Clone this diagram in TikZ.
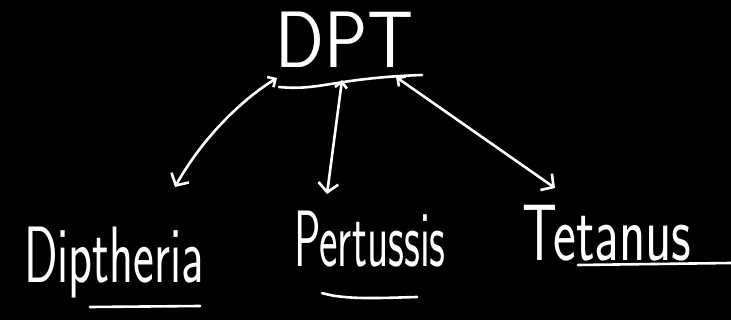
\documentclass[tikz,border=0pt]{standalone}
\usepackage{graphicx}
\usetikzlibrary{arrows.meta}

% handwriting is narrow: squeeze the text sideways
\newcommand{\narrow}[2]{\scalebox{#1}[1]{#2}}

\begin{document}
\begin{tikzpicture}[
            x = 1pt, y = -1pt, % pixel-like units, origin top left
            chalk/.style = {white, line width=2.6pt, line cap=round},
            word/.style = {white, anchor=base, inner sep=0pt,
                font=\fontsize{80}{80}\selectfont\sffamily},
            link/.style = {chalk, {Straight Barb[length=6pt,width=12pt]}-{Straight Barb[length=9pt,width=20pt]}}
        ]

        \fill[black] (0,0) rectangle (731,320);
        \useasboundingbox (0,0) rectangle (731,320);

        \node[word] (dpt) at (345,68) {\narrow{0.9}{DPT}};
        \node[word] (diph) at (114,283) {\narrow{0.62}{Diptheria}};
        \node[word] (pert) at (370,267) {\narrow{0.55}{Pertussis}};
        \node[word] (tet) at (607,261) {\narrow{0.68}{Tetanus}};

        % arrow ends
        \coordinate (dfoot) at (277,78);
        \coordinate (pfoot) at (342,80);
        \coordinate (tfoot) at (396,77);
        \coordinate (diphtop) at (175,187);
        \coordinate (perttop) at (327,194);
        \coordinate (tettop) at (555,188);

        \draw[link] (dfoot) .. controls (238,102) and (200,142) .. (diphtop);
        \draw[link] (pfoot) -- (perttop);
        \draw[link] (tfoot) -- (tettop);

        % underlines
        \draw[chalk] (279,87) .. controls (320,91) and (335,78) .. (422,75);
        \draw[chalk] (90,307) -- (200,306);
        \draw[chalk] (322,293) .. controls (345,300) and (380,298) .. (417,297);
        \draw[chalk] (578,265) -- (731,263);
\end{tikzpicture}
\end{document}
